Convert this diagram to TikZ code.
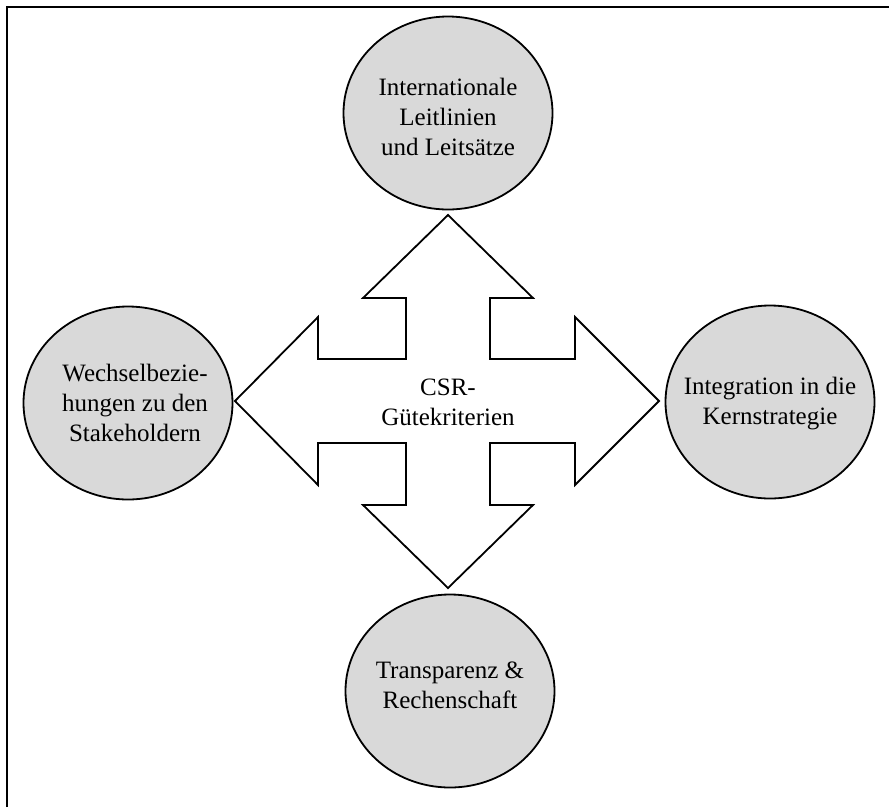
\documentclass[tikz,border=0pt]{standalone}
\usepackage{fontspec}
\setmainfont{Liberation Serif}
\usetikzlibrary{shapes.geometric, positioning}
\definecolor{kreisgrau}{RGB}{217,217,217}

\begin{document}
\begin{tikzpicture}[x=1pt,y=-1pt,kreisstyle/.style={
	draw,ellipse,line width=1.8pt,fill=kreisgrau,minimum width=209pt,minimum height=193pt,inner sep=0pt
},textstyle/.style={align=center,font=\fontsize{25}{30}\selectfont}]
	\useasboundingbox (0,0) rectangle (889,807);
	\draw[line width=2pt] (7,807) -- (7,7) -- (889,7);

	% Kreuz mit vier Pfeilen
	\draw[line width=1.8pt,fill=white] (448,215) -- (533,298) -- (490,298) -- (490,359)
		-- (575,359) -- (575,317) -- (659,401) -- (575,485) -- (575,443) -- (490,443)
		-- (490,505) -- (533,505) -- (448,588) -- (363,505) -- (406,505) -- (406,443)
		-- (318,443) -- (318,485) -- (235,401) -- (318,317) -- (318,359) -- (406,359)
		-- (406,298) -- (363,298) -- cycle;
	\node[textstyle] at (448,402) (csr) {CSR-\\Gütekriterien};

	\node[kreisstyle] at (448,113) (kroben) {};
	\node[kreisstyle] at (128,403) (krlinks) {};
	\node[kreisstyle] at (770,402) (krrechts) {};
	\node[kreisstyle] at (450,691) (krunten) {};

	\node[textstyle] at ([yshift=-4pt]kroben.center) (txoben) {Internationale\\Leitlinien\\und Leitsätze};
	\node[textstyle] at ([xshift=7pt]krlinks.center) (txlinks) {Wechselbezie-\\hungen zu den\\Stakeholdern};
	\node[textstyle] at ([yshift=-2pt]krrechts.center) (txrechts) {Integration in die\\Kernstrategie};
	\node[textstyle] at ([yshift=6pt]krunten.center) (txunten) {Transparenz \&\\Rechenschaft};
\end{tikzpicture}
\end{document}
